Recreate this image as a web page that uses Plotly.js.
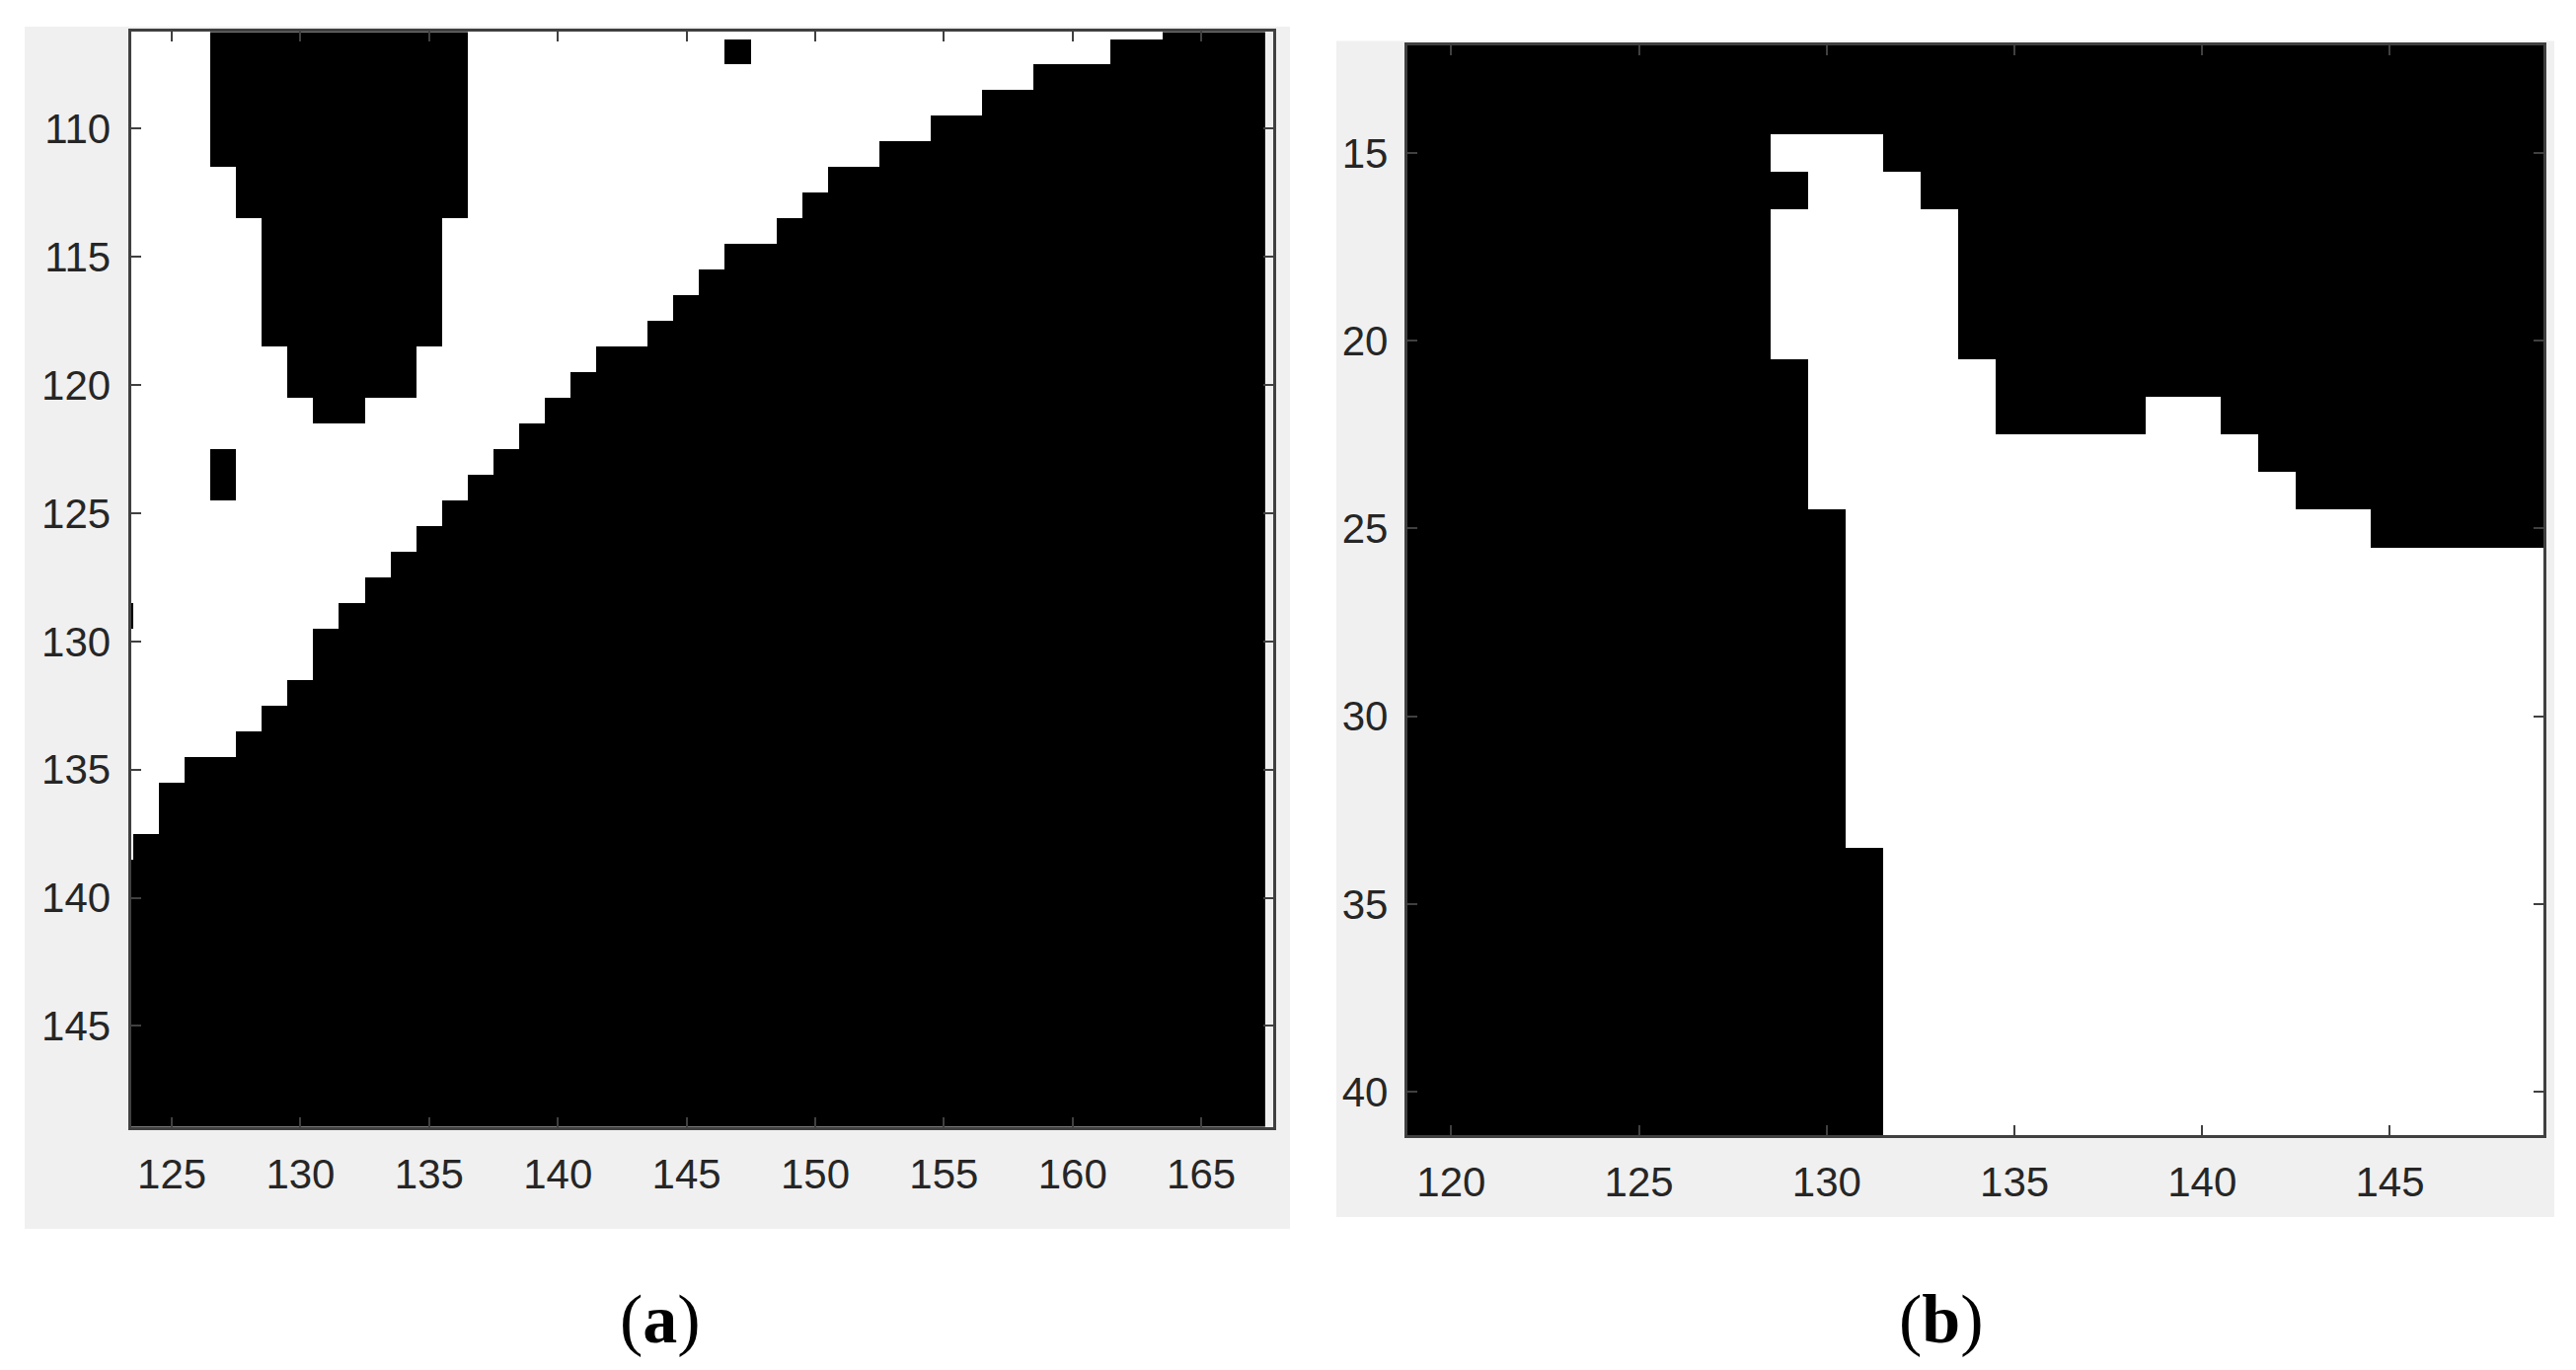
<!DOCTYPE html>
<html>
<head>
<meta charset="utf-8">
<script src="https://cdn.plot.ly/plotly-3.0.1.min.js"></script>
<style>
  html, body { margin: 0; padding: 0; background: #fff; }
  #myDiv { width: 2610px; height: 1388px; }
</style>
</head>
<body>
<div id="myDiv"></div>
<script>
// ---- panel (a): binary mask, pixel columns / rows ----
var colsA = [123,124,125,126,127,128,129,130,131,132,133,134,135,136,137,138,139,140,141,142,143,144,145,
             146,147,148,149,150,151,152,153,154,155,156,157,158,159,160,161,162,163,164,165,166,167];
var rowsA = [106,107,108,109,110,111,112,113,114,115,116,117,118,119,120,121,122,123,124,125,126,127,
             128,129,130,131,132,133,134,135,136,137,138,139,140,141,142,143,144,145,146,147,148,149];
// first black row of the lower-right region, one per column of colsA
var stairA = [139,138,136,135,135,134,133,132,130,129,128,127,126,125,124,123,122,121,120,119,119,118,117,
              116,115,115,114,113,112,112,111,111,110,110,109,109,108,108,108,107,107,106,106,106,106];
// black blob hanging from the top edge
var blobColsA = [127,128,129,130,131,132,133,134,135,136];
var blobBottomA = [111,113,118,120,121,121,120,120,118,113];
// isolated black pixels [col, row]
var dotsA = [[127,123],[127,124],[147,107],[123,129]];

// ---- panel (b) ----
var colsB = [119,120,121,122,123,124,125,126,127,128,129,130,131,132,133,134,135,136,137,138,139,140,
             141,142,143,144,145,146,147,148,149];
var rowsB = [12,13,14,15,16,17,18,19,20,21,22,23,24,25,26,27,28,29,30,31,32,33,34,35,36,37,38,39,40,41];
// white run per column (null = all black)
var whiteTopB = [null,null,null,null,null,null,null,null,null,null,15,15,15,16,17,21,23,23,23,23,22,22,
                 23,24,25,25,26,26,26,26,26];
var whiteBotB = [null,null,null,null,null,null,null,null,null,null,20,24,33,41,41,41,41,41,41,41,41,41,
                 41,41,41,41,41,41,41,41,41];
var dotsB = [[129,16]];

function maskA() {
  var z = [];
  for (var i = 0; i < rowsA.length; i++) {
    var row = [];
    for (var j = 0; j < colsA.length; j++) {
      var v = rowsA[i] >= stairA[j] ? 0 : 1;
      var k = blobColsA.indexOf(colsA[j]);
      if (k >= 0 && rowsA[i] <= blobBottomA[k]) v = 0;
      row.push(v);
    }
    z.push(row);
  }
  dotsA.forEach(function (d) {
    z[rowsA.indexOf(d[1])][colsA.indexOf(d[0])] = 0;
  });
  return z;
}

function maskB() {
  var z = [];
  for (var i = 0; i < rowsB.length; i++) {
    var row = [];
    for (var j = 0; j < colsB.length; j++) {
      var v = 0;
      if (whiteTopB[j] !== null && rowsB[i] >= whiteTopB[j] && rowsB[i] <= whiteBotB[j]) v = 1;
      row.push(v);
    }
    z.push(row);
  }
  dotsB.forEach(function (d) {
    z[rowsB.indexOf(d[1])][colsB.indexOf(d[0])] = 0;
  });
  return z;
}

var bw = [[0, '#000000'], [1, '#ffffff']];

var traceA = {
  type: 'heatmap', x: colsA, y: rowsA, z: maskA(),
  colorscale: bw, zmin: 0, zmax: 1, showscale: false, zsmooth: false,
  hoverinfo: 'skip', xaxis: 'x', yaxis: 'y'
};
var traceB = {
  type: 'heatmap', x: colsB, y: rowsB, z: maskB(),
  colorscale: bw, zmin: 0, zmax: 1, showscale: false, zsmooth: false,
  hoverinfo: 'skip', xaxis: 'x2', yaxis: 'y2'
};

var tickFont = { family: 'Liberation Sans, Arial, sans-serif', size: 42, color: '#262626' };

function ax(extra) {
  var base = {
    showgrid: false, zeroline: false,
    showline: true, linecolor: '#404040', linewidth: 3, mirror: 'allticks',
    ticks: 'inside', ticklen: 10, tickwidth: 2, tickcolor: '#404040',
    tickfont: tickFont, tickmode: 'array'
  };
  for (var k in extra) base[k] = extra[k];
  return base;
}

var capFont = { family: 'Liberation Serif, Times New Roman, serif', size: 70, color: '#000' };

var layout = {
  width: 2610, height: 1388,
  margin: { l: 0, r: 0, t: 0, b: 0 },
  paper_bgcolor: '#ffffff',
  plot_bgcolor: 'rgba(0,0,0,0)',
  showlegend: false,
  xaxis: ax({ domain: [0.0508, 0.4943], range: [123.41, 167.8], anchor: 'y',
              tickvals: [125,130,135,140,145,150,155,160,165], ticklabelstandoff: 9 }),
  yaxis: ax({ domain: [0.17759, 0.97659], range: [148.93, 106.23], anchor: 'x',
              tickvals: [110,115,120,125,130,135,140,145], ticklabelstandoff: 9 }),
  xaxis2: ax({ domain: [0.54632, 0.98739], range: [118.83, 149.09], anchor: 'y2',
               tickvals: [120,125,130,135,140,145], ticklabelstandoff: 8 }),
  yaxis2: ax({ domain: [0.17133, 0.96715], range: [41.15, 12.13], anchor: 'x2',
               tickvals: [15,20,25,30,35,40], ticklabelstandoff: 8 }),
  shapes: [
    { type: 'rect', xref: 'paper', yref: 'paper', layer: 'below',
      x0: 0.00958, x1: 0.50077, y0: 0.10303, y1: 0.98055,
      fillcolor: '#f0f0f0', line: { width: 0 } },
    { type: 'rect', xref: 'paper', yref: 'paper', layer: 'below',
      x0: 0.51877, x1: 0.99157, y0: 0.11167, y1: 0.9701,
      fillcolor: '#f0f0f0', line: { width: 0 } }
  ],
  annotations: [
    { text: '(<b>a</b>)', xref: 'paper', yref: 'paper', x: 669 / 2610, y: 1 - 1336 / 1388,
      xanchor: 'center', yanchor: 'middle', showarrow: false, font: capFont },
    { text: '(<b>b</b>)', xref: 'paper', yref: 'paper', x: 1967 / 2610, y: 1 - 1336 / 1388,
      xanchor: 'center', yanchor: 'middle', showarrow: false, font: capFont }
  ]
};

Plotly.newPlot('myDiv', [traceA, traceB], layout, { staticPlot: true });
</script>
</body>
</html>
